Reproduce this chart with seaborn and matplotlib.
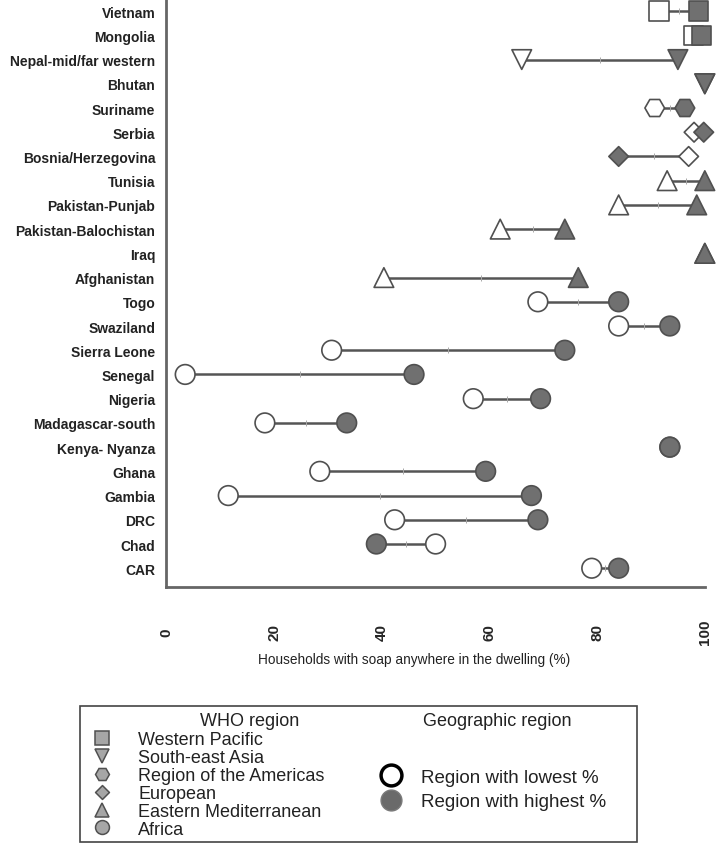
import numpy as np
import pandas as pd
import matplotlib
matplotlib.use("Agg")
import matplotlib.pyplot as plt
from matplotlib.lines import Line2D
from matplotlib.patches import Rectangle
from matplotlib.path import Path
import seaborn as sns

countries = ["Vietnam", "Mongolia", "Nepal-mid/far western", "Bhutan", "Suriname", "Serbia",
             "Bosnia/Herzegovina", "Tunisia", "Pakistan-Punjab", "Pakistan-Balochistan", "Iraq",
             "Afghanistan", "Togo", "Swaziland", "Sierra Leone", "Senegal", "Nigeria",
             "Madagascar-south", "Kenya- Nyanza", "Ghana", "Gambia", "DRC", "Chad", "CAR"]
who_region = ["Western Pacific"] * 2 + ["South-east Asia"] * 2 + ["Region of the Americas"] + \
             ["European"] * 2 + ["Eastern Mediterranean"] * 5 + ["Africa"] * 12
lowest = [91.5, 97.9, 66.0, 100.0, 90.7, 98.0, 97.0, 93.0, 84.0, 62.0, 100.0, 40.4,
          69.0, 84.0, 30.7, 3.5, 57.0, 18.3, 93.5, 28.5, 11.5, 42.4, 50.0, 79.0]
highest = [98.8, 99.4, 95.0, 100.0, 96.3, 99.8, 84.0, 100.0, 98.5, 74.0, 100.0, 76.5,
           84.0, 93.5, 74.0, 46.0, 69.5, 33.5, 93.5, 59.3, 67.8, 69.0, 39.0, 84.0]

region_order = ["Western Pacific", "South-east Asia", "Region of the Americas",
                "European", "Eastern Mediterranean", "Africa"]
diamond = Path([(0, 1), (1, 0), (0, -1), (-1, 0), (0, 1)], closed=True)
markers = {"Western Pacific": "s", "South-east Asia": "v", "Region of the Americas": "H",
           "European": diamond, "Eastern Mediterranean": "^", "Africa": "o"}

sns.set_style("white")
plt.rcParams["font.family"] = ["Liberation Sans", "DejaVu Sans"]

df = pd.DataFrame({"country": countries, "region": who_region,
                   "lowest": lowest, "highest": highest})
long_df = df.melt(id_vars=["country", "region"], value_vars=["lowest", "highest"],
                  var_name="level", value_name="pct")

fig = plt.figure(figsize=(7.17, 8.45), dpi=100)
ax = fig.add_axes([0.232, 0.304, 0.751, 0.696])

ypos = np.arange(len(countries))
ax.hlines(ypos, df["lowest"], df["highest"], color="#555555", lw=1.8, zorder=1)
ax.scatter((df["lowest"] + df["highest"]) / 2, ypos, marker="|", s=20,
           color="#a8a8a8", lw=0.7, zorder=1.5)

sns.scatterplot(data=long_df, x="pct", y="country", hue="level", style="region",
                palette={"lowest": "white", "highest": "#707070"},
                markers=markers, style_order=region_order, s=200,
                edgecolor="#505050", linewidth=1.2, legend=False, ax=ax,
                zorder=3, clip_on=False)

ax.set_xlim(0, 100)
ax.set_ylim(len(countries) - 0.22, -0.5)
ax.set_xticks([0, 20, 40, 60, 80, 100])
ax.set_xticklabels(["0", "20", "40", "60", "80", "100"], rotation=90,
                   fontweight="bold", fontsize=11, va="center")
ax.set_yticks(ypos)
ax.set_yticklabels(countries, fontweight="bold", fontsize=10, color="#222222")
ax.tick_params(axis="x", length=5, width=2, color="#666666", pad=27)
ax.tick_params(axis="y", length=5, width=2, color="#666666", pad=3)
ax.set_xlabel("Households with soap anywhere in the dwelling (%)", fontsize=9.8,
              color="#222222")
ax.xaxis.set_label_coords(0.46, -0.110)
ax.set_ylabel("")
sns.despine(ax=ax)
for side in ["left", "bottom"]:
    ax.spines[side].set_color("#666666")
    ax.spines[side].set_linewidth(2)

# legend box
fig.patches.append(Rectangle((80 / 717, 2 / 845), 557 / 717, 136 / 845,
                             transform=fig.transFigure, fill=False,
                             edgecolor="#444444", lw=1.2))
fig.text(250 / 717, 1 - 722 / 845, "WHO region", ha="center", va="center",
         fontsize=13, color="#222222")
fig.text(497 / 717, 1 - 722 / 845, "Geographic region", ha="center", va="center",
         fontsize=13, color="#222222")

who_handles = [Line2D([], [], ls="", marker=markers[r], ms=10, mfc="#a6a6a6",
                      mec="#505050", mew=1.1) for r in region_order]
fig.legend(who_handles, region_order, loc="upper left",
           bbox_to_anchor=(84 / 717, 1 - 725 / 845), frameon=False,
           fontsize=13, labelspacing=0.05, handletextpad=1.4,
           borderaxespad=0, handlelength=1.2, labelcolor="#222222")

geo_handles = [Line2D([], [], ls="", marker="o", ms=15, mfc="white", mec="black", mew=2.5),
               Line2D([], [], ls="", marker="o", ms=15, mfc="#6a6a6a", mec="#7a7a7a", mew=1)]
fig.legend(geo_handles, ["Region with lowest %", "Region with highest %"],
           loc="upper left", bbox_to_anchor=(372 / 717, 1 - 762 / 845),
           frameon=False, fontsize=13.5, labelspacing=0.4, handletextpad=1.0,
           borderaxespad=0, handlelength=1.2, labelcolor="#222222")

fig.savefig("out.png", dpi=100)
